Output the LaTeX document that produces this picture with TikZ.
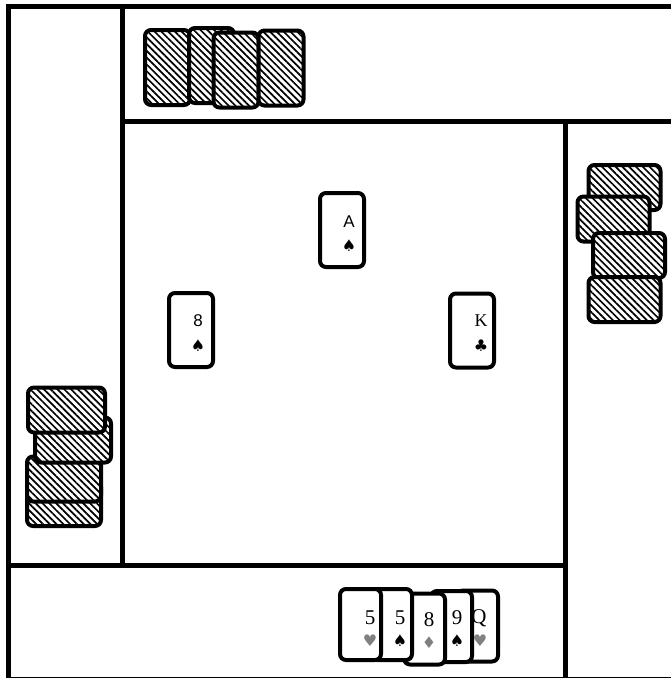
\documentclass[tikz,border=0pt]{standalone}
\usepackage{fontspec}
\setmainfont{Liberation Serif}
\setsansfont{Liberation Sans}
\newfontfamily\suitfont{DejaVu Sans}
\usetikzlibrary{patterns.meta,positioning}
\definecolor{redsuit}{gray}{0.5}

\begin{document}
\begin{tikzpicture}[x=1pt,y=-1pt,
  frame/.style={line width=5pt},
  faceup/.style={draw,fill=white,line width=4pt,rounded corners=6pt,inner sep=0pt},
  table card/.style={faceup,minimum width=44pt,minimum height=74pt},
  hand card/.style={faceup,minimum width=41pt,minimum height=71pt},
  facedown/.style={draw,line width=4pt,rounded corners=6pt,inner sep=0pt,
    preaction={fill=white},pattern={Lines[angle=-45,distance=4.8pt,line width=1.7pt]}},
  upright/.style={facedown,minimum width=45pt,minimum height=75pt},
  sideways/.style={facedown,minimum width=72pt,minimum height=45pt},
  rank/.style={inner sep=0pt,font=\fontsize{21}{21}\selectfont},
  srank/.style={inner sep=0pt,font=\sffamily\fontsize{17}{17}\selectfont},
  trank/.style={inner sep=0pt,font=\fontsize{18}{18}\selectfont},
  suit/.style={inner sep=0pt,font=\suitfont\fontsize{16}{16}\selectfont},
  red suit/.style={suit,text=redsuit}
]
\useasboundingbox (0,0) rectangle (671,678);

% table frame
\draw[frame] (8,6.5) rectangle (675,679.5);
\draw[frame] (122,6.5) -- (122,565);
\draw[frame] (122,121) -- (675,121);
\draw[frame] (565.5,121) -- (565.5,679.5);
\draw[frame] (8,565) -- (565.5,565);

% north hand
\node[upright] (n1) at (167.5,67.5) {};
\node[upright] (n2) at (211.5,65.5) {};
\node[upright] (n3) at (236,70) {};
\node[upright] (n4) at (281,68) {};

% east hand
\node[sideways] (e1) at (624.5,187.5) {};
\node[sideways] (e2) at (613.5,219) {};
\node[sideways] (e3) at (629,255.5) {};
\node[sideways] (e4) at (624.5,299.5) {};

% west hand
\node[sideways,minimum width=74pt] (w4) at (64,503.5) {};
\node[sideways,minimum width=74pt] (w3) at (64,479) {};
\node[sideways,minimum width=76pt] (w2) at (73,440) {};
\node[sideways,minimum width=77pt] (w1) at (66.5,410) {};

% cards on the table
\node[table card] (north) at (342,230) {};
\node[srank] (north-r) at ([shift={(7,-8)}]north.center) {A};
\node[suit] (north-s) at ([shift={(7,16)}]north.center) {♠};

\node[table card] (west) at (191,330) {};
\node[srank] (west-r) at ([shift={(7,-9)}]west.center) {8};
\node[suit] (west-s) at ([shift={(7,16)}]west.center) {♠};

\node[table card] (east) at (472,330.5) {};
\node[trank] (east-r) at ([shift={(9,-10)}]east.center) {K};
\node[suit] (east-s) at ([shift={(9,15)}]east.center) {♣};

% south hand
\node[hand card] (s5) at (477.5,626) {};
\node[rank] (s5-r) at (479,618) {Q};
\node[red suit] (s5-s) at (480,641) {♥};

\node[hand card] (s4) at (451.5,626.5) {};
\node[rank] (s4-r) at (457,618) {9};
\node[suit] (s4-s) at (457,641) {♠};

\node[hand card] (s3) at (424.5,629) {};
\node[rank] (s3-r) at (429,620) {8};
\node[red suit] (s3-s) at (429,643) {♦};

\node[hand card] (s2) at (391.5,624.5) {};
\node[rank] (s2-r) at (400,618) {5};
\node[suit] (s2-s) at (400,641) {♠};

\node[hand card] (s1) at (360.5,624.5) {};
\node[rank] (s1-r) at (370,618) {5};
\node[red suit] (s1-s) at (370,641) {♥};
\end{tikzpicture}
\end{document}
